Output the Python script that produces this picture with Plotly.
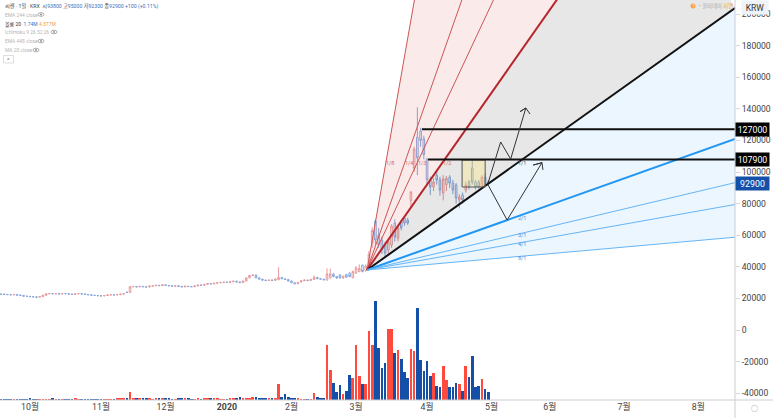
import numpy as np
import plotly.graph_objects as go

FONT = "Roboto, 'Noto Sans CJK KR', sans-serif"

# Trading-day index (0 = first session of March 2020); prices in thousand KRW
first_day = -110
open_k = [22.7,22.7,22.5,22.4,22.3,22.4,22.1,21.9,21.4,21.3,21.1,21.0,20.8,21.2,22.0,22.9,23.1,22.9,23.0,22.8,
          23.1,23.0,22.7,22.5,22.9,23.1,22.8,22.5,22.3,22.0,21.8,21.7,21.6,21.8,22.2,22.3,22.2,22.4,22.7,24.0,
          23.8,27.4,27.5,27.3,27.6,27.4,27.2,27.8,28.0,28.3,28.1,28.6,28.2,28.0,27.7,28.0,27.6,27.3,27.7,27.5,
          27.4,27.9,28.4,28.3,28.9,29.4,29.2,29.6,29.9,30.1,30.3,30.1,30.5,30.9,30.4,30.0,31.0,33.0,34.5,34.8,
          33.0,32.2,31.6,31.3,31.6,31.4,31.8,33.3,32.4,32.0,31.0,29.9,29.3,
          30.4,31.2,31.6,31.3,32.0,33.3,32.5,32.2,31.6,33.0,35.4,33.8,34.8,32.9,35.0,36.0,33.0,36.0,37.0,41.0,
          37.5,41.0,55.0,69.0,60.0,57.0,53.8,50.6,53.8,67.7,58.0,68.4,70.9,69.6,82.0,102.5,122.0,126.0,121.0,108.0,
          95.0,90.5,98.0,95.0,86.7,92.0,96.8,93.0,91.8,82.3,85.4,88.6,93.7,102.5,93.7,93.7,90.5,96.8,93.8]
close_k = [22.6,22.5,22.4,22.3,22.4,22.1,21.9,21.4,21.3,21.1,21.0,20.7,21.2,22.0,22.9,23.1,22.9,23.0,22.8,23.1,
           23.0,22.7,22.5,22.9,23.1,22.8,22.5,22.3,22.0,21.8,21.7,21.6,21.8,22.2,22.3,22.2,22.4,22.7,23.0,23.7,
           27.4,27.5,27.3,27.6,27.4,27.2,27.8,28.0,28.3,28.1,28.6,28.2,28.0,27.7,28.0,27.6,27.3,27.7,27.5,27.4,
           27.9,28.4,28.3,28.9,29.4,29.2,29.6,29.9,30.1,30.3,30.1,30.5,30.9,30.4,30.0,31.0,33.0,34.5,34.8,33.0,
           32.2,31.6,31.3,31.6,31.4,32.3,33.3,32.4,32.0,31.0,29.9,29.3,30.0,
           31.2,31.6,31.3,32.0,33.4,32.5,32.2,31.8,35.5,35.5,33.8,32.9,33.0,34.0,33.5,33.8,37.0,39.3,39.0,37.0,
           40.5,48.0,63.0,57.0,54.0,51.0,48.7,55.7,65.8,58.9,64.6,64.6,67.7,67.7,87.3,114.5,109.0,120.0,111.0,95.0,
           90.5,93.7,95.0,88.6,95.6,96.0,93.0,88.6,83.5,84.2,82.3,91.8,90.5,93.7,90.5,90.5,96.8,91.8,92.9]
high_k = [22.9,22.9,22.7,22.6,22.6,22.6,22.3,22.1,21.6,21.5,21.3,21.2,21.4,22.2,23.1,23.3,23.3,23.2,23.2,23.3,
          23.3,23.2,22.9,23.1,23.3,23.3,23.0,22.7,22.5,22.2,22.0,21.9,22.0,22.4,22.5,22.5,22.6,22.9,23.2,24.3,
          27.7,27.7,27.7,27.8,27.8,27.6,28.0,28.2,28.5,28.5,28.8,28.8,28.4,28.2,28.2,28.2,27.8,27.9,27.9,27.7,
          28.1,28.6,28.6,29.1,29.6,29.6,29.8,30.1,30.3,30.5,30.5,30.7,31.1,31.1,30.6,31.2,33.3,34.7,35.2,35.1,
          33.2,32.4,31.8,31.8,31.8,32.5,39.7,33.5,32.6,32.2,31.2,30.1,30.3,
          31.5,31.9,31.8,32.3,34.5,33.6,32.8,32.4,39.0,38.8,36.0,34.2,35.4,34.4,35.6,36.6,37.6,40.5,41.5,41.5,
          41.5,50.0,65.0,70.0,64.5,59.0,56.0,57.0,67.0,70.0,66.0,70.0,72.0,71.0,88.0,116.0,141.0,128.0,123.0,109.0,
          97.0,96.0,100.0,97.0,98.0,97.5,98.0,95.0,93.0,86.0,87.0,94.0,95.0,107.6,95.0,95.0,98.0,99.0,95.0]
low_k = [22.4,22.3,22.2,22.1,22.1,21.9,21.7,21.2,21.1,20.9,20.8,20.5,20.6,21.0,21.8,22.7,22.7,22.7,22.6,22.6,
         22.8,22.5,22.3,22.3,22.7,22.6,22.3,22.1,21.8,21.6,21.5,21.4,21.4,21.6,22.0,22.0,22.0,22.2,22.5,23.4,
         23.6,27.2,27.1,27.1,27.2,27.0,27.0,27.6,27.8,27.9,27.9,28.0,27.8,27.5,27.5,27.4,27.1,27.1,27.3,27.2,
         27.2,27.7,28.1,28.1,28.7,29.0,29.0,29.4,29.7,29.9,29.9,29.9,30.3,30.2,29.8,29.8,30.8,32.8,34.3,32.7,
         32.0,31.4,31.1,31.1,31.2,31.2,31.6,32.2,31.8,30.8,29.7,29.1,29.1,
         30.2,31.0,31.0,31.1,31.8,32.2,31.9,31.5,31.4,32.6,33.4,32.5,32.6,32.5,33.0,33.4,32.8,35.6,36.6,36.5,
         37.0,40.5,52.0,54.0,52.0,48.0,46.0,48.0,52.0,56.0,56.0,63.0,66.0,66.5,78.0,100.0,98.0,116.0,108.0,92.0,
         85.4,88.0,92.0,85.0,82.0,88.0,90.0,86.0,80.0,77.0,80.0,87.0,89.0,92.0,89.0,89.5,89.5,90.5,92.3]
volume_m = [0.2,0.2,0.2,0.1,0.2,0.2,0.2,0.1,0.2,0.3,0.2,0.2,0.1,0.2,0.2,0.2,0.3,0.2,0.2,0.2,
            0.1,0.2,0.2,0.3,0.2,0.2,0.1,0.2,0.2,0.1,0.2,0.1,0.2,0.2,0.2,0.2,0.3,0.4,0.3,0.3,
            1.8,0.5,0.4,0.3,0.4,0.4,0.3,0.2,0.3,0.4,0.3,0.3,0.3,0.2,0.2,0.3,0.3,0.3,0.4,0.2,
            0.2,0.3,0.2,0.5,0.3,0.4,0.4,0.3,0.2,0.2,0.2,0.3,0.4,0.5,0.6,0.5,0.4,0.4,0.6,0.7,
            0.4,0.3,0.5,0.4,0.3,0.4,3.5,0.7,1.2,0.7,0.4,0.4,0.3,
            0.2,0.2,0.2,0.2,1.45,0.7,0.3,0.3,12.0,6.6,3.8,1.8,3.3,1.4,2.0,5.4,4.8,11.9,5.3,3.4,
            3.4,14.9,12.0,21.6,11.3,7.0,8.0,15.4,15.4,10.3,10.8,8.9,6.1,4.8,11.0,10.7,20.0,8.8,6.4,8.4,
            5.3,5.8,3.0,2.9,7.3,4.4,2.8,2.9,3.8,3.5,1.9,7.5,5.1,9.5,2.9,3.1,4.6,2.3,1.74]
assert len(open_k) == len(close_k) == len(high_k) == len(low_k) == len(volume_m), (
    len(open_k), len(close_k), len(high_k), len(low_k), len(volume_m))
days = list(range(first_day, first_day + len(open_k)))

month_ticks = [-101, -79, -59, -40, -20, 0, 22, 42, 60, 83, 106]
month_labels = ["10월", "11월", "12월", "<b>2020</b>", "2월", "3월", "4월", "5월", "6월", "7월", "8월"]
price_ticks = [-40000, -20000, 0, 20000, 40000, 60000, 80000, 100000, 120000, 140000, 160000, 180000, 200000]
price_labels = ["-40000", "-20000", "0", "20000", "40000", "60000", "80000", "100000", "120000",
                "140000", "160000", "180000", "200000"]

# Gann fan
fan_x0, fan_y0 = 3.4, 38000
fan_x1 = 117.4
fan_unit = 1454           # KRW per trading day on the 1/1 line
fan_ratios = [8, 4, 3, 2, 1, 1/2, 1/3, 1/4, 1/8]
fan_names = ["1/8", "1/4", "1/3", "1/2", "1/1", "2/1", "3/1", "4/1", "8/1"]
fan_colors = ["#cc5555", "#cc5555", "#cc5555", "#b5262c", "#111111", "#2196f3", "#66b5f6", "#66b5f6", "#66b5f6"]
fan_widths = [1, 1, 1, 2, 2, 2, 1, 1, 1]
fan_label_x = [10.5, 16.5, 20.5, 28.3, 51.5, 51.5, 51.5, 51.5, 51.5]
fan_label_y = [105500, 105500, 105500, 105500, 105500, 71000, 60000, 54500, 45500]
fan_label_colors = ["#cf6a6a", "#cf6a6a", "#cf6a6a", "#cf6a6a", "#556", "#4a90d9", "#4a90d9", "#4a90d9", "#4a90d9"]

# Horizontal levels, box and forecast paths
levels = [127000, 107900]
level_start = [20.4, 22.3]
box_x = [32.85, 40.0]
box_y = [90500, 107600]
path_up_x = [40.9, 44.8, 47.9, 52.6, 50.8, 52.6, 53.9]
path_up_y = [93000, 119000, 108200, 140500, 138200, 140500, 136700]
path_dn_x = [40.9, 46.8, 57.6, 54.9, 57.6, 57.9]
path_dn_y = [91800, 69600, 105900, 104400, 105900, 101300]

UP, DOWN = "#ff4a3d", "#1450a8"
price_open = np.array(open_k) * 1000
price_close = np.array(close_k) * 1000
price_high = np.array(high_k) * 1000
price_low = np.array(low_k) * 1000

fig = go.Figure()

vol_colors = [UP if c >= o else DOWN for o, c in zip(open_k, close_k)]
fig.add_trace(go.Bar(x=days, y=np.array(volume_m) * 1e6, yaxis="y2", width=0.82,
                     marker=dict(color=vol_colors, line=dict(width=0)), hoverinfo="skip"))

fig.add_trace(go.Candlestick(
    x=days, open=price_open, high=price_high, low=price_low, close=price_close,
    increasing=dict(line=dict(color="#e89a9a", width=1), fillcolor="rgba(255,255,255,0.7)"),
    decreasing=dict(line=dict(color="#8aa8dc", width=1), fillcolor="rgba(255,255,255,0.7)"),
    whiskerwidth=0, hoverinfo="skip"))

def fan_y(x, ratio):
    return fan_y0 + fan_unit * ratio * (x - fan_x0)

# Extend steep rays only as far as needed: everything beyond the axes is clipped
def ray(ratio):
    x = min(fan_x1, fan_x0 + 260000 / (fan_unit * ratio))
    return x, fan_y(x, ratio)

def wedge(r1, r2, color):
    p1, p2 = ray(r1), ray(r2)
    fig.add_trace(go.Scatter(x=[fan_x0, p1[0], p2[0], fan_x0], y=[fan_y0, p1[1], p2[1], fan_y0],
                             mode="lines", line=dict(width=0), fill="toself", fillcolor=color,
                             hoverinfo="skip"))

wedge(8, 2, "rgba(214,60,60,0.11)")
wedge(2, 1, "rgba(0,0,0,0.095)")
wedge(1, 1/8, "rgba(33,150,243,0.09)")
for r, col, w in zip(fan_ratios, fan_colors, fan_widths):
    x, y = ray(r)
    fig.add_trace(go.Scatter(x=[fan_x0, x], y=[fan_y0, y], mode="lines",
                             line=dict(color=col, width=w), hoverinfo="skip"))

fig.add_trace(go.Scatter(x=[box_x[0], box_x[1], box_x[1], box_x[0], box_x[0]],
                         y=[box_y[0], box_y[0], box_y[1], box_y[1], box_y[0]],
                         mode="lines", line=dict(color="#555555", width=1),
                         fill="toself", fillcolor="rgba(255,232,110,0.30)", hoverinfo="skip"))
for lv, st in zip(levels, level_start):
    fig.add_trace(go.Scatter(x=[st, fan_x1], y=[lv, lv], mode="lines",
                             line=dict(color="#111111", width=2), hoverinfo="skip"))
for px_, py_ in ((path_up_x, path_up_y), (path_dn_x, path_dn_y)):
    fig.add_trace(go.Scatter(x=px_, y=py_, mode="lines", line=dict(color="#333333", width=1),
                             hoverinfo="skip"))

ann = []
for name, lx, ly, col in zip(fan_names, fan_label_x, fan_label_y, fan_label_colors):
    ann.append(dict(x=lx, y=ly, xref="x", yref="y", text=name, showarrow=False,
                    font=dict(size=5.5, color=col, family=FONT)))

def left_text(px, py, text, size=4.9, color="#b5b5b5"):
    ann.append(dict(x=px / 735, y=1 - py / 400, xref="paper", yref="paper", text=text, showarrow=False,
                    xanchor="left", yanchor="middle", font=dict(size=size, color=color, family=FONT)))

def center_text(px, py, text, size, color, **kw):
    ann.append(dict(x=px / 735, y=1 - py / 400, xref="paper", yref="paper", text=text, showarrow=False,
                    xanchor="center", yanchor="middle", font=dict(size=size, color=color, family=FONT), **kw))

blue = "#3a6fc0"
left_text(3, 6, '씨젠 · 1일 · KRX  시<span style="color:%s">93800</span> 고<span style="color:%s">95000</span> '
                '저<span style="color:%s">92300</span> 종<span style="color:%s">92900 +100 (+0.11%%)</span>'
          % (blue, blue, blue, blue), size=5.2, color="#444444")
left_text(3, 14.5, "EMA 244 close")
left_text(3, 24, '볼륨 20  <span style="color:%s">1.74M</span> <span style="color:#f59a3c">4.377M</span>' % blue,
          size=5, color="#333333")
left_text(3, 32, "Ichimoku 9 26 52 26")
left_text(3, 41, "EMA 448 close")
left_text(3, 50, "MA 20 close")
center_text(8.5, 59.5, "^", 6, "#666666")

# Right-hand price tags
for val, bg in ((127000, "#000000"), (107900, "#000000"), (92900, "#1450a8")):
    ann.append(dict(x=1, y=val, xref="paper", yref="y", xanchor="left", yanchor="middle", text=str(val),
                    showarrow=False, width=33, height=13, bgcolor=bg, borderpad=0, align="center",
                    font=dict(size=8.8, color="#ffffff", family=FONT)))
center_text(755, 7.5, "KRW", 8.5, "#333333", width=24, height=11, bgcolor="#eef3f8")
center_text(754, 409, "○", 7, "#777777")
# Holiday / delay notice
center_text(693, 6, "!", 5, "#ffffff")
left_text(697, 6, '• 할리데이 <span style="color:#f5a04a">지연</span>', size=5.4, color="#a8a8a8")

def px_circle(cx, cy, rx, ry, fill, line):
    return dict(type="circle", xref="paper", yref="paper", x0=(cx - rx) / 735, x1=(cx + rx) / 735,
                y0=1 - (cy + ry) / 400, y1=1 - (cy - ry) / 400, fillcolor=fill, line=line, layer="above")

shapes = [
    px_circle(693, 6, 2.5, 2.5, "#f7a14c", dict(width=0)),
    dict(type="rect", xref="paper", yref="paper", x0=3.5 / 735, x1=13.5 / 735, y0=1 - 63 / 400, y1=1 - 55.5 / 400,
         fillcolor="#ffffff", line=dict(color="#dddddd", width=1), layer="above"),
    dict(type="line", xref="paper", yref="paper", x0=0, x1=773 / 735, y0=0, y1=0,
         line=dict(color="#c9cdd2", width=1), layer="above"),
    dict(type="line", xref="paper", yref="paper", x0=1, x1=1, y0=-18 / 400, y1=1,
         line=dict(color="#c9cdd2", width=1), layer="above"),
]
# Eye icons of the indicator legend
for ex, ey in ((41, 14.5), (54, 32), (41, 41), (36, 50)):
    shapes.append(px_circle(ex, ey, 3, 1.8, "#ffffff", dict(color="#9a9a9a", width=0.8)))
    shapes.append(px_circle(ex, ey, 0.9, 0.9, "#8a8a8a", dict(width=0)))

fig.update_layout(
    width=773, height=418, autosize=False, margin=dict(l=0, r=38, t=0, b=18),
    paper_bgcolor="#ffffff", plot_bgcolor="#ffffff", showlegend=False, bargap=0,
    font=dict(family=FONT, color="#444444", size=8.8),
    annotations=ann, shapes=shapes,
    xaxis=dict(range=[-110.3, 117.4], tickmode="array", tickvals=month_ticks, ticktext=month_labels,
               showgrid=False, zeroline=False, showline=False, ticks="", rangeslider=dict(visible=False),
               tickfont=dict(size=8.8, color="#444444", family=FONT), fixedrange=True),
    yaxis=dict(range=[-44300, 208860], side="right", tickmode="array", tickvals=price_ticks, ticktext=price_labels,
               showgrid=False, zeroline=False, showline=False, ticks="outside", ticklen=4, tickcolor="#d5d8dc",
               tickfont=dict(size=8.6, color="#444444", family=FONT), fixedrange=True),
    yaxis2=dict(range=[0, 87e6], overlaying="y", side="left", visible=False, fixedrange=True),
)

fig.write_html("out.html", config={"displayModeBar": False},
               post_script="document.body.style.margin='0';document.documentElement.style.overflow='hidden';")
